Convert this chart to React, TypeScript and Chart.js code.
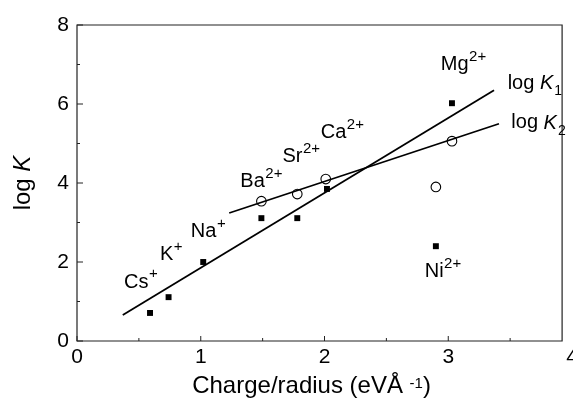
import React, { useEffect, useRef } from "react";
import { Chart, registerables } from "chart.js";

Chart.register(...registerables);

// ---- data ----
const ions = ["Cs", "K", "Na", "Ba", "Sr", "Ca", "Mg", "Ni"];
const ionCharges = ["+", "+", "+", "2+", "2+", "2+", "2+", "2+"];
const chargeRadiusK1 = [0.59, 0.74, 1.02, 1.49, 1.78, 2.02, 3.03, 2.9];
const logK1 = [0.71, 1.11, 2.0, 3.11, 3.11, 3.85, 6.02, 2.4];
const chargeRadiusK2 = [1.49, 1.78, 2.01, 3.03, 2.9];
const logK2 = [3.54, 3.72, 4.1, 5.06, 3.9];
const fitK1X = [0.37, 3.37];
const fitK1Y = [0.66, 6.35];
const fitK2X = [1.23, 3.41];
const fitK2Y = [3.24, 5.5];
const ionLabelX = [0.38, 0.67, 0.92, 1.32, 1.66, 1.97, 2.94, 2.81];
const ionLabelY = [1.49, 2.18, 2.76, 4.03, 4.66, 5.27, 6.99, 1.75];
const seriesLabelNames = ["1", "2"];
const seriesLabelX = [3.48, 3.51];
const seriesLabelY = [6.53, 5.52];
const xMin = 0;
const xMax = 4;
const xStep = 0.5;
const yMin = 0;
const yMax = 8;
const yStep = 1;
const frameRightValue = 3.92;

const FONT = "'Liberation Sans', Arial, Helvetica, sans-serif";

const annotatePlugin = {
  id: "annotate",
  afterDraw(chart: any) {
    const ctx = chart.ctx as CanvasRenderingContext2D;
    const xs = chart.scales.x;
    const ys = chart.scales.y;
    const area = chart.chartArea;
    const right = xs.getPixelForValue(frameRightValue);
    ctx.save();
    // frame
    ctx.strokeStyle = "#222";
    ctx.lineWidth = 1.2;
    ctx.beginPath();
    ctx.rect(area.left, area.top, right - area.left, area.bottom - area.top);
    ctx.stroke();
    // inward ticks
    ctx.lineWidth = 1;
    xs.ticks.forEach((t: any) => {
      const px = xs.getPixelForValue(t.value);
      if (px > right + 0.5) return;
      const len = Number.isInteger(t.value) ? 5 : 3;
      ctx.beginPath();
      ctx.moveTo(px, area.bottom);
      ctx.lineTo(px, area.bottom - len);
      ctx.stroke();
    });
    ys.ticks.forEach((t: any) => {
      const py = ys.getPixelForValue(t.value);
      const len = t.value % 2 === 0 ? 6 : 3;
      ctx.beginPath();
      ctx.moveTo(area.left, py);
      ctx.lineTo(area.left + len, py);
      ctx.stroke();
    });
    // ion labels
    ctx.fillStyle = "#000";
    ctx.textBaseline = "middle";
    ctx.textAlign = "left";
    ions.forEach((name, i) => {
      const px = xs.getPixelForValue(ionLabelX[i]);
      const py = ys.getPixelForValue(ionLabelY[i]);
      ctx.font = `20px ${FONT}`;
      ctx.fillText(name, px, py);
      const w = ctx.measureText(name).width;
      ctx.font = `15px ${FONT}`;
      ctx.fillText(ionCharges[i], px + w + 0.5, py - 8);
    });
    // series labels
    seriesLabelNames.forEach((sub, i) => {
      const px = xs.getPixelForValue(seriesLabelX[i]);
      const py = ys.getPixelForValue(seriesLabelY[i]);
      ctx.font = `20px ${FONT}`;
      ctx.fillText("log ", px, py);
      let w = ctx.measureText("log ").width;
      ctx.font = `italic 20px ${FONT}`;
      ctx.fillText("K", px + w, py);
      w += ctx.measureText("K").width;
      ctx.font = `14px ${FONT}`;
      ctx.fillText(sub, px + w + 1, py + 8);
    });
    // x title
    const cx = (area.left + right) / 2 - 8;
    const ty = 386;
    const parts: [string, string, number][] = [
      ["Charge/radius (eVÅ ", `24px ${FONT}`, 0],
      ["-1", `15px ${FONT}`, -2],
      [")", `24px ${FONT}`, 0],
    ];
    let total = 0;
    parts.forEach(([t, f]) => {
      ctx.font = f;
      total += ctx.measureText(t).width;
    });
    let x0 = cx - total / 2;
    parts.forEach(([t, f, dy]) => {
      ctx.font = f;
      ctx.fillText(t, x0, ty + dy);
      x0 += ctx.measureText(t).width;
    });
    // y title
    ctx.translate(23, (area.top + area.bottom) / 2);
    ctx.rotate(-Math.PI / 2);
    ctx.font = `24px ${FONT}`;
    const a = ctx.measureText("log ").width;
    ctx.font = `italic 24px ${FONT}`;
    const b = ctx.measureText("K").width;
    const start = -(a + b) / 2;
    ctx.font = `24px ${FONT}`;
    ctx.fillText("log ", start, 0);
    ctx.font = `italic 24px ${FONT}`;
    ctx.fillText("K", start + a, 0);
    ctx.restore();
  },
};

export default function App() {
  const ref = useRef<HTMLCanvasElement | null>(null);
  useEffect(() => {
    if (!ref.current) return;
    const toPts = (xs: number[], ys: number[]) => xs.map((x, i) => ({ x, y: ys[i] }));
    const chart = new Chart(ref.current, {
      type: "scatter",
      data: {
        datasets: [
          {
            label: "fit K1",
            data: toPts(fitK1X, fitK1Y),
            showLine: true,
            borderColor: "#000",
            borderWidth: 1.8,
            pointRadius: 0,
          },
          {
            label: "fit K2",
            data: toPts(fitK2X, fitK2Y),
            showLine: true,
            borderColor: "#000",
            borderWidth: 1.8,
            pointRadius: 0,
          },
          {
            label: "log K1",
            data: toPts(chargeRadiusK1, logK1),
            pointStyle: "rect",
            pointRadius: 4.2,
            backgroundColor: "#000",
            borderColor: "#000",
            borderWidth: 0,
          },
          {
            label: "log K2",
            data: toPts(chargeRadiusK2, logK2),
            pointStyle: "circle",
            pointRadius: 4.8,
            backgroundColor: "#fff",
            borderColor: "#000",
            borderWidth: 1.1,
          },
        ],
      },
      options: {
        animation: false,
        responsive: false,
        layout: { padding: { top: 25, right: 11, left: 0, bottom: 0 } },
        plugins: { legend: { display: false }, tooltip: { enabled: false } },
        scales: {
          x: {
            type: "linear",
            min: xMin,
            max: xMax,
            grid: { display: false, drawTicks: false },
            border: { display: false },
            afterFit: (s: any) => {
              s.height = 61;
            },
            ticks: {
              stepSize: xStep,
              autoSkip: false,
              maxRotation: 0,
              padding: 4,
              color: "#000",
              font: { family: FONT, size: 21 },
              callback: (v: any) => (Number.isInteger(v) ? String(v) : ""),
            },
          },
          y: {
            type: "linear",
            min: yMin,
            max: yMax,
            grid: { display: false, drawTicks: false },
            border: { display: false },
            afterFit: (s: any) => {
              s.width = 77;
            },
            ticks: {
              stepSize: yStep,
              autoSkip: false,
              padding: 8,
              color: "#000",
              font: { family: FONT, size: 21 },
              callback: (v: any) => (Number(v) % 2 === 0 ? String(v) : ""),
            },
          },
        },
      },
      plugins: [annotatePlugin],
    });
    return () => chart.destroy();
  }, []);
  return (
    <div
      style={{
        position: "absolute",
        left: 0,
        top: 0,
        width: 573,
        height: 402,
        overflow: "hidden",
        background: "#fff",
      }}
    >
      <canvas ref={ref} width={583} height={402} style={{ display: "block" }} />
    </div>
  );
}
